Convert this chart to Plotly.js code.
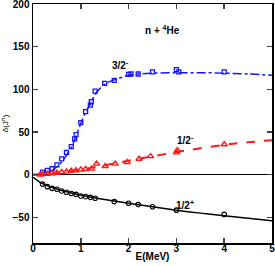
<!DOCTYPE html>
<html><head><meta charset="utf-8">
<script src="https://cdn.plot.ly/plotly-3.0.1.min.js"></script>
<style>html,body{margin:0;padding:0;background:#fff}#c{width:275px;height:266px}</style>
</head><body><div id="c"></div>
<script>
// 3/2- data (blue squares)
const p32X = [0.2,0.3,0.4,0.5,0.6,0.7,0.8,0.87,0.9,1.0,1.1,1.2,1.22,1.3,1.5,1.7,2.0,2.05,2.2,2.5,3.0,3.05,4.0];
const p32Y = [3,5,7,11.5,18.5,26,33,42,47,61,74,81.5,85.5,98,107,110.5,117.5,118,118,120.5,123,120.5,120.5];
// 1/2- data (red triangles)
const p12mX = [0.15,0.2,0.3,0.4,0.5,0.6,0.7,0.8,0.9,1.0,1.1,1.23,1.33,1.51,1.72,1.97,2.22,2.46,3.0,3.02,4.0];
const p12mY = [0,0.5,1,1.5,2,3,3.5,4.5,5,6,6.5,7,12.8,10,12.8,14.7,18.6,21.6,26,28.5,35.5];
// 1/2+ data (black circles)
const p12pX = [0.2,0.3,0.4,0.5,0.6,0.7,0.8,0.9,1.0,1.1,1.2,1.3,1.7,2.0,2.2,2.5,3.0,4.0];
const p12pY = [-11,-14,-16,-17,-19,-20.5,-22,-23,-25,-25.5,-26.5,-27.5,-31.5,-33.5,-35,-37.5,-41.5,-46.5];
// calculated curves
const c32X = [0,0.2,0.4,0.6,0.8,0.9,1.0,1.1,1.2,1.3,1.4,1.5,1.6,1.8,2.0,2.2,2.5,3.0,3.5,4.0,4.5,5.0];
const c32Y = [0,1,5,15,32,45,60,73,83,94,101,106,109,113,116.5,118,119,119.5,119.5,119,118,116.5];
const c12mX = [0,0.5,1,1.5,2,2.5,3,3.5,4,4.5,5];
const c12mY = [0,2,6,11,16.5,21.5,26.5,31,35,38,40.5];
const c12pX = [0,0.1,0.2,0.4,0.6,0.8,1.0,1.5,2,2.5,3,3.5,4,4.5,5];
const c12pY = [-3,-7,-10.5,-15,-18.5,-21.5,-24,-29,-33.5,-37.5,-41.5,-45,-48,-51,-54];

const blue = '#1414ff', red = '#ff1a1a', black = '#000000';
const traces = [
  {x:c32X, y:c32Y, mode:'lines', line:{color:blue, width:1.5, dash:'dashdot', shape:'spline'}},
  {x:c12mX, y:c12mY, mode:'lines', line:{color:red, width:2, dash:'dash', shape:'spline'}},
  {x:c12pX, y:c12pY, mode:'lines', line:{color:black, width:1.5, shape:'spline'}},
  {x:p32X, y:p32Y, mode:'markers', marker:{symbol:'square-open', size:4, color:blue, line:{width:1.3, color:blue}}},
  {x:p12mX, y:p12mY, mode:'markers', marker:{symbol:'triangle-up-open', size:5.5, color:red, line:{width:1.4, color:red}}},
  {x:p12pX, y:p12pY, mode:'markers', marker:{symbol:'circle-open', size:4.5, color:black, line:{width:1.1, color:black}}}
];
const tf = {family:'Liberation Sans, Arial, sans-serif', size:10, color:'#000', weight:'bold'};
const layout = {
  width:275, height:266, showlegend:false,
  paper_bgcolor:'#fff', plot_bgcolor:'#fff',
  margin:{l:33, r:3, t:4, b:23},
  xaxis:{range:[0,5], dtick:1, ticks:'inside', ticklen:5, tickwidth:1.5, showline:true, linewidth:1.5, linecolor:'#000',
         mirror:'ticks', showgrid:false, zeroline:false, tickfont:tf, ticklabeloverflow:'allow', ticklabelstandoff:-5,
         title:{text:'E(MeV)', font:tf, standoff:0}},
  yaxis:{range:[-80,200], dtick:50, ticks:'inside', ticklen:5, tickwidth:1.5, showline:true, linewidth:1.5, linecolor:'#000',
         mirror:'ticks', showgrid:false, zeroline:true, zerolinecolor:'#000', zerolinewidth:1, tickfont:tf, ticklabeloverflow:'allow',
         title:{text:'δ(J<sup>π</sup>)', font:{family:'Liberation Sans, Arial, sans-serif', size:8, color:'#000'}, standoff:4}},
  annotations:[
    {x:2.7, y:169, xref:'x', yref:'y', text:'n + <sup>4</sup>He', showarrow:false, font:tf},
    {x:1.82, y:129, xref:'x', yref:'y', text:'3/2<sup>-</sup>', showarrow:false, font:tf},
    {x:3.18, y:41, xref:'x', yref:'y', text:'1/2<sup>-</sup>', showarrow:false, font:tf},
    {x:3.18, y:-36, xref:'x', yref:'y', text:'1/2<sup>+</sup>', showarrow:false, font:tf}
  ]
};
Plotly.newPlot('c', traces, layout, {displayModeBar:false, staticPlot:true});
</script></body></html>
